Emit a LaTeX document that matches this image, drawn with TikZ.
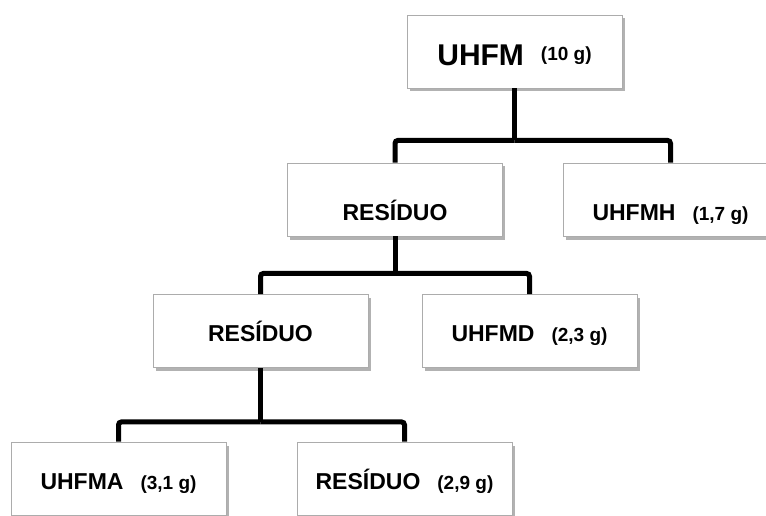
\documentclass[tikz,border=0pt]{standalone}
\usepackage{fontspec}
\setmainfont{Liberation Sans}
\usetikzlibrary{shadows}

\newcommand\massa[1]{{\fontsize{19}{22}\selectfont #1}}

\begin{document}
\begin{tikzpicture}[x=1pt, y=-1pt,
    font=\fontsize{23}{27}\selectfont\bfseries,
    box/.style={draw=gray!65, line width=0.8pt, fill=white,
      minimum width=215pt, minimum height=73pt, text depth=0pt, text height=21pt,
      drop shadow={shadow xshift=2.5pt, shadow yshift=-3.5pt, fill=black, opacity=0.3}},
    link/.style={line width=5pt, rounded corners=3pt}]
  \path[use as bounding box] (0,0) rectangle (766,516);
  \clip (0,0) rectangle (766,516);

  % boxes
  \node[box, text height=28.5pt] (root) at (514.5,51.5)
    {{\fontsize{30}{36}\selectfont UHFM}\hspace{17pt}\raisebox{5pt}{\massa{(10 g)}}};
  \node[box, text height=42.5pt] (res1) at (395,199.5) {RESÍDUO};
  \node[box, text height=42.5pt] (uhfmh) at (670.5,199.5) {UHFMH\hspace{17pt}\massa{(1,7 g)}};
  \node[box, text height=20.5pt] (res2) at (260.5,331) {RESÍDUO};
  \node[box, text height=20.5pt] (uhfmd) at (529.5,331) {UHFMD\hspace{17pt}\massa{(2,3 g)}};
  \node[box] (uhfma) at (118.5,478.5) {UHFMA\hspace{17pt}\massa{(3,1 g)}};
  \node[box] (res3) at (404.5,478.5) {RESÍDUO\hspace{17pt}\massa{(2,9 g)}};

  % connectors
  \path (root.south) ++(0,52) coordinate (j1);
  \path (res1.south) ++(0,37) coordinate (j2);
  \path (res2.south) ++(0,54) coordinate (j3);

  \draw[link] (root.south) -- (j1);
  \draw[link] (j1) -| (res1.north);
  \draw[link] (j1) -| (uhfmh.north);

  \draw[link] (res1.south) -- (j2);
  \draw[link] (j2) -| (res2.north);
  \draw[link] (j2) -| (uhfmd.north);

  \draw[link] (res2.south) -- (j3);
  \draw[link] (j3) -| (uhfma.north);
  \draw[link] (j3) -| (res3.north);
\end{tikzpicture}
\end{document}
